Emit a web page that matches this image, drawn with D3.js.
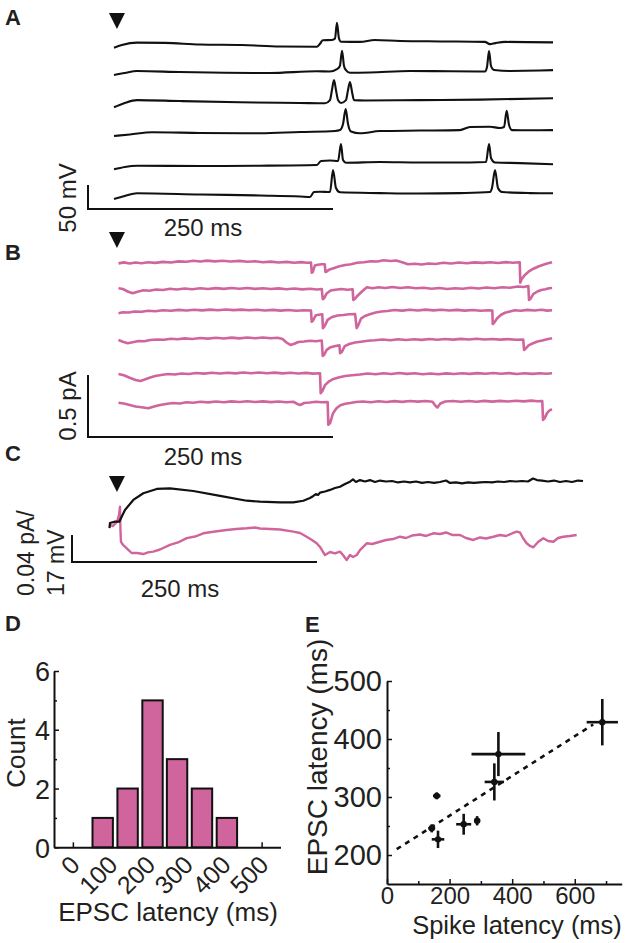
<!DOCTYPE html>
<html><head><meta charset="utf-8">
<script src="https://cdn.jsdelivr.net/npm/d3@7/dist/d3.min.js"></script>
<style>
body{margin:0;background:#fff}
svg{display:block}
text{font-family:"Liberation Sans",Arial,Helvetica,sans-serif;fill:#231f20}
</style>
</head><body>
<svg id="fig" width="630" height="943"></svg>
<script>
// ---------------- DATA ----------------
// Panel A: membrane potential trials, [time ms, mV relative to rest]
const vmTrial1 = [[0,-3.5],[8,2],[23.5,7],[52,6.5],[88,3],[130.5,2],[169.5,-1],[207,-1.5],[210,4],[213,12],[222.5,12.5],[225.5,15.5],[227.5,48.5],[229.5,16.5],[231.5,9],[251,8.5],[266,12.5],[292,10.5],[333,9.5],[378.5,8.5],[383.5,4],[389,6],[399,8.5],[448,7.5]];
const vmTrial2 = [[0,-6.2],[11,-2],[23.5,2],[67,0],[113,-1.5],[159,-2],[207,1.5],[220,1],[227.5,6],[230.5,12.5],[232.7,44.4],[234.7,12.5],[236.7,4],[240.8,-1.5],[261,-1],[302,2],[343,1.5],[378.5,1],[380.6,10.4],[382.7,43.7],[384.7,12.5],[387.8,4],[404,2],[434.7,3],[448,4]];
const vmTrial3 = [[0,-11],[11,-2],[23.5,4],[67,2],[128.6,-0.6],[190,-2],[215.3,-2.7],[220.4,4],[222.4,25],[224.5,45.8],[226.5,25],[228.6,4],[231.6,-2],[236.7,4],[238.8,25],[240.8,41.7],[242.9,20.8],[244.9,4],[256,3],[312,4],[373.5,5],[448,7.7]];
const vmTrial4 = [[0,-8.3],[16.3,-5.2],[38.8,-0.6],[88,-2],[149,-2.7],[190,0],[225.5,2],[230.6,4],[233.7,16.7],[236.4,47.9],[238.8,16.7],[241.8,1],[251,-2.7],[271.4,2],[312,3],[353,4],[363.3,10.4],[383.7,11],[393.9,8.3],[398,10.4],[400.7,44.4],[403.1,14.6],[406.1,4],[424.5,3.5],[448,4]];
const vmTrial5 = [[0,-9],[11,-4],[23.5,-1.5],[88,-2],[149,-1.5],[207,0],[211.2,8.3],[220.4,9.4],[228.6,8.3],[231.6,43.7],[233.7,10.4],[236.7,4.8],[271.4,6.2],[312,5.2],[363.3,5.2],[379.6,6.2],[382.7,43.7],[384.7,14.6],[388.8,5.2],[414.3,4],[448,1.5]];
const vmTrial6 = [[0,-8.3],[11,-2],[23.5,3.5],[88,1],[149,-1],[190,-3],[200,-4.2],[204.1,6.2],[210.2,6.9],[220.4,6.2],[223.5,52],[226.5,14.6],[230.6,5.6],[271.4,4],[312,3],[353,4],[383.7,6.2],[385.7,14.6],[388.8,52],[391.8,14.6],[395.9,6.2],[424.5,4],[448,3.5]];

// Panel B: EPSC trials, [time ms, pA relative to baseline]
const iTrial1 = [[4.6,-0.003],[10,0.005],[16,-0.004],[22,0.004],[28,-0.002],[35,0.006],[42,0.001],[50,0.009],[58,0.004],[66,0.013],[74,0.010],[81,0.018],[88,0.012],[95,0.019],[103,0.013],[111,0.018],[119,0.012],[128,0.017],[136,0.010],[144,0.014],[152,0.006],[160,0.011],[168,0.004],[176,0.009],[184,0.002],[191,0.007],[197,0.002],[201,0.004],[201.8,-0.078],[203,-0.07],[205,-0.02],[208,-0.014],[212,-0.01],[215,-0.01],[215.8,-0.072],[217,-0.068],[220,-0.052],[224,-0.042],[230,-0.026],[236,-0.016],[242,-0.01],[248,0.002],[255,0.006],[262,0.014],[269,0.012],[275,0.022],[282,0.016],[288,0.02],[294,0.006],[300,-0.01],[307,-0.006],[314,-0.012],[321,-0.004],[328,-0.008],[336,0.002],[344,-0.004],[352,0.004],[360,-0.002],[368,0.005],[376,0.001],[384,0.006],[392,0.0],[400,0.007],[407,0.002],[414,0.006],[414.6,-0.158],[416,-0.13],[419,-0.098],[423,-0.07],[428,-0.046],[433,-0.028],[438,-0.014],[442,-0.004],[447,0.006]];
const iTrial2 = [[4.6,0.006],[9,0.0],[14,-0.02],[19,-0.034],[24,-0.022],[30,-0.01],[36,-0.014],[43,-0.004],[50,-0.008],[57,0.002],[64,-0.004],[72,0.004],[80,-0.002],[88,0.006],[96,0.0],[104,0.007],[112,0.001],[120,0.008],[128,0.002],[136,0.008],[144,0.001],[152,0.006],[160,0.0],[168,0.005],[176,-0.002],[184,0.004],[192,-0.003],[200,0.002],[207,-0.004],[212,0.0],[213,-0.082],[214.5,-0.074],[217,-0.036],[221,-0.012],[226,-0.006],[232,0.0],[238,-0.006],[243.5,-0.002],[244.2,-0.088],[246,-0.078],[249,-0.05],[253,-0.02],[258,0.014],[264,0.006],[270,0.014],[277,0.008],[284,0.016],[292,0.008],[300,0.014],[308,0.006],[316,0.01],[324,0.002],[332,0.008],[340,0.0],[348,0.006],[356,0.002],[364,0.01],[372,0.004],[380,0.012],[388,0.006],[396,0.014],[404,0.01],[412,0.02],[418,0.016],[422.8,0.024],[423.5,-0.088],[425,-0.08],[428,-0.04],[432,-0.02],[436,-0.008],[440,-0.002],[444,0.006],[447,0.008]];
const iTrial3 = [[4.6,-0.018],[9,-0.01],[15,-0.012],[21,-0.004],[28,-0.006],[35,0.002],[42,-0.002],[50,0.006],[58,0.002],[66,0.009],[74,0.004],[82,0.01],[90,0.005],[98,0.011],[106,0.006],[114,0.012],[122,0.007],[130,0.011],[138,0.006],[146,0.01],[154,0.004],[162,0.009],[170,0.003],[178,0.008],[186,0.002],[194,0.006],[201,0.004],[201.7,-0.086],[203,-0.078],[206,-0.034],[209,-0.03],[212.5,-0.026],[213.2,-0.138],[215,-0.12],[218,-0.072],[222,-0.05],[228,-0.036],[234,-0.032],[240,-0.026],[246,-0.024],[247.6,-0.138],[249,-0.12],[252,-0.062],[256,-0.04],[261,-0.026],[267,-0.012],[273,-0.004],[279,0.0],[286,0.008],[294,0.003],[302,0.01],[310,0.004],[318,0.011],[326,0.005],[334,0.01],[342,0.004],[350,0.009],[358,0.003],[366,0.008],[374,0.002],[382,0.006],[386,0.004],[386.5,-0.104],[388,-0.094],[391,-0.058],[395,-0.03],[399,-0.014],[404,-0.004],[409,0.006],[415,0.002],[422,0.009],[429,0.004],[436,0.01],[442,0.003],[447,0.006]];
const iTrial4 = [[4.6,0.0],[9,-0.014],[14,-0.026],[19,-0.018],[25,-0.008],[31,-0.01],[37,0.0],[44,0.004],[51,0.002],[58,0.01],[65,0.006],[72,0.013],[80,0.008],[88,0.016],[96,0.011],[104,0.018],[112,0.012],[120,0.019],[128,0.013],[136,0.02],[144,0.014],[152,0.02],[160,0.014],[167,0.018],[172,0.008],[176,-0.02],[180,-0.04],[184,-0.03],[188,-0.016],[194,-0.012],[200,-0.006],[206,-0.01],[212,-0.004],[213,-0.128],[214.5,-0.118],[217,-0.08],[221,-0.058],[226,-0.048],[230,-0.042],[230.7,-0.106],[232.5,-0.096],[235.5,-0.05],[240,-0.032],[246,-0.02],[252,-0.014],[259,-0.006],[266,-0.002],[274,0.004],[282,-0.002],[290,0.006],[298,0.0],[306,0.006],[314,0.001],[322,0.008],[330,0.002],[338,0.008],[346,0.003],[354,0.009],[362,0.004],[370,0.01],[378,0.004],[386,0.008],[394,0.003],[402,0.007],[410,0.002],[417.6,0.004],[418.4,-0.08],[420,-0.07],[423,-0.044],[427,-0.028],[432,-0.012],[437,-0.004],[442,0.006],[447,0.014]];
const iTrial5 = [[4.6,0.0],[10,-0.01],[16,-0.03],[22,-0.048],[27,-0.056],[32,-0.042],[37,-0.028],[42,-0.016],[48,-0.008],[55,0.0],[62,-0.004],[69,0.004],[76,0.0],[84,0.008],[92,0.003],[100,0.01],[108,0.004],[116,0.01],[124,0.005],[132,0.012],[140,0.006],[148,0.012],[156,0.006],[164,0.011],[172,0.005],[180,0.01],[188,0.004],[196,0.009],[203,0.003],[210.2,0.006],[210.9,-0.154],[212.5,-0.138],[215.5,-0.088],[219,-0.062],[224,-0.04],[230,-0.026],[236,-0.016],[243,-0.01],[251,-0.004],[259,0.004],[267,-0.002],[275,0.006],[283,0.0],[291,0.008],[299,0.001],[307,0.006],[315,-0.002],[323,0.004],[331,-0.002],[339,0.005],[347,0.0],[355,0.006],[363,0.001],[371,0.007],[379,0.002],[387,0.008],[395,0.002],[403,0.007],[411,0.0],[419,0.006],[427,0.001],[435,0.006],[441,0.002],[447,0.006]];
const iTrial6 = [[4.6,-0.006],[10,-0.012],[16,-0.024],[22,-0.036],[28,-0.042],[35,-0.05],[41,-0.036],[47,-0.024],[53,-0.016],[60,-0.008],[67,-0.012],[74,-0.002],[81,-0.006],[88,0.002],[96,-0.003],[104,0.004],[112,-0.002],[120,0.005],[128,0.0],[136,0.006],[144,0.0],[152,0.005],[160,-0.001],[168,0.004],[176,-0.002],[183,0.002],[187,-0.016],[190,-0.024],[194,-0.008],[200,-0.004],[206,0.002],[212,-0.002],[218,0.0],[218.7,-0.184],[220.5,-0.17],[223.5,-0.09],[227,-0.05],[231,-0.026],[236,-0.014],[241,-0.008],[247,0.0],[254,0.004],[262,-0.002],[270,0.006],[278,0.0],[286,0.007],[294,0.001],[302,0.008],[310,0.003],[318,0.008],[325,0.002],[328,-0.03],[330,-0.044],[333,-0.012],[338,0.004],[346,0.008],[354,0.002],[362,0.008],[370,0.002],[378,0.009],[386,0.003],[394,0.009],[402,0.004],[410,0.01],[418,0.005],[426,0.011],[432,0.006],[437,0.008],[437.8,-0.144],[439.5,-0.13],[442,-0.088],[445,-0.064],[447,-0.06]];

// Panel C: averages. Vm [ms, mV], EPSC [ms, pA]
const vmAverage = [[-4.6,-3.8],[-4.1,-0.6],[1,0.2],[5.4,0.2],[8.2,3.8],[11.2,7.6],[19.7,13.9],[29.9,18.1],[43.6,20.8],[57.1,21.2],[80.9,19.5],[108.2,16.4],[135.4,13.4],[149,12.8],[169.4,12.4],[183,12.4],[193.2,13.4],[200,15.1],[203.4,16.4],[206,17.6],[208.2,17],[210.2,18.5],[215.3,19.2],[220.4,20.2],[225.5,21.4],[230.6,22.2],[235.7,23.9],[240.8,25.4],[243.9,26.8],[246.9,25.2],[251,26.4],[256.1,25.5],[261.2,26.4],[266.3,25.2],[271.4,26.1],[277.6,25.5],[283.7,25.8],[289.8,24.9],[295.9,25.5],[302,24.9],[308.2,25.5],[314.3,24.6],[320.4,25.2],[326.5,24.6],[332.7,25.2],[338.8,26.1],[342.9,24.6],[349,24.9],[355.1,24.3],[361.2,24.9],[367.3,24.6],[373.5,24.9],[379.6,25.2],[385.7,24.9],[391.8,25.5],[398,25.2],[404.1,25.8],[410.2,25.5],[416.3,25.8],[422.4,25.5],[427.6,27.4],[431.6,26.4],[436.7,26.1],[442.9,25.5],[449,26.1],[455.1,25.2],[461.2,25.8],[467.3,25.2],[473.5,26.1],[478.6,25.8]];
const epscAverage = [[-4.1,0.0015],[-1,0],[3.1,0.006],[5.1,0.016],[6.1,0.0286],[6.6,-0.006],[7.1,-0.0233],[9.2,-0.028],[13,-0.033],[18,-0.040],[23.5,-0.040],[29.9,-0.0415],[34.7,-0.039],[40.1,-0.038],[46.9,-0.0348],[57.1,-0.028],[65.3,-0.0244],[74.2,-0.018],[82.7,-0.0156],[91.1,-0.0108],[103.1,-0.0081],[115,-0.0059],[124.5,-0.0044],[135.4,-0.0034],[143.9,-0.0022],[149,-0.0037],[159.2,-0.0044],[169.4,-0.0052],[183,-0.0084],[189.8,-0.0104],[196.6,-0.0159],[202,-0.0207],[206.8,-0.0256],[210.2,-0.0311],[213.3,-0.0385],[215.3,-0.043],[220.4,-0.0385],[225.5,-0.0407],[230.6,-0.038],[233.7,-0.043],[237.4,-0.0504],[240.8,-0.043],[243.9,-0.0459],[247.7,-0.043],[251,-0.0356],[257.9,-0.0256],[263.3,-0.0267],[271.4,-0.0233],[277.6,-0.0207],[284.7,-0.0193],[291.8,-0.0159],[298,-0.0178],[304.1,-0.0141],[312.2,-0.0126],[318.4,-0.0148],[325.8,-0.0108],[332.7,-0.0119],[338.8,-0.0096],[344.9,-0.0133],[353.1,-0.0133],[359.2,-0.0178],[366.6,-0.0207],[373.5,-0.017],[379.6,-0.0185],[387.1,-0.0159],[393.9,-0.0133],[400,-0.0148],[406.1,-0.0111],[410.9,-0.0084],[414.3,-0.0096],[417.3,-0.0178],[421.1,-0.0256],[424.5,-0.0296],[427.9,-0.0316],[432.7,-0.0237],[438.1,-0.0182],[442.9,-0.0222],[448.3,-0.0233],[453.1,-0.0178],[458.5,-0.0159],[465.3,-0.0148],[472.1,-0.0133]];

// Panel D: histogram
const binCenters = [79, 145, 211, 276, 342, 408];
const binCounts = [1, 2, 5, 3, 2, 1];
const histXTicks = [0, 100, 200, 300, 400, 500];
const histYTicks = [0, 2, 4, 6];

// Panel E: scatter with error bars
const spikeLatency = [143, 163, 159, 245, 288, 343, 356, 688];
const spikeLatencyErr = [11, 20, 12, 24, 10, 31, 86, 50];
const epscLatency = [246, 227, 302, 253, 259, 326, 374, 429];
const epscLatencyErr = [7, 15, 6, 18, 8, 32, 38, 40];
const fitX = [31, 659];
const fitY = [210, 425];
const scatterXTicks = [0, 200, 400, 600];
const scatterYTicks = [200, 300, 400, 500];

// ---------------- DRAWING ----------------
const PINK = "#cf659c";
const INK = "#111";
const svg = d3.select("#fig");

// shared time scale for traces (250 ms scale bar)
const xT = d3.scaleLinear().domain([0, 250]).range([114, 359]);
const stimTime = 3;

function label(x, y, s) {
  svg.append("text").attr("x", x).attr("y", y).attr("font-size", 22)
    .attr("font-weight", "bold").text(s);
}
function triangle(yTop) {
  const cx = xT(stimTime);
  svg.append("path").attr("d", `M${cx-8},${yTop}L${cx+8},${yTop}L${cx},${yTop+16}Z`).attr("fill", INK);
}
function scaleBar(x0, y0, h, len) {
  svg.append("path").attr("d", `M${x0},${y0-h}V${y0}H${x0+len}`)
    .attr("fill", "none").attr("stroke", INK).attr("stroke-width", 2);
}
function rotText(x, y, s, size, anchor) {
  svg.append("text").attr("transform", `translate(${x},${y}) rotate(-90)`)
    .attr("text-anchor", anchor || "middle").attr("font-size", size).text(s);
}

// ---- Panel A ----
label(5, 25, "A");
triangle(13);
const yA = d3.scaleLinear().domain([0, 50]).range([0, -24]);
const aRefs = [46, 72, 102, 132, 165, 195];
[vmTrial1, vmTrial2, vmTrial3, vmTrial4, vmTrial5, vmTrial6].forEach((tr, i) => {
  const ln = d3.line().x(d => xT(d[0])).y(d => aRefs[i] + yA(d[1])).curve(d3.curveMonotoneX);
  svg.append("path").attr("d", ln(tr)).attr("fill", "none").attr("stroke", INK)
    .attr("stroke-width", 2.1).attr("stroke-linejoin", "round");
});
scaleBar(88, 209, -yA(50), xT(250) - xT(0));
rotText(76, 198, "50 mV", 24);
svg.append("text").attr("x", 203).attr("y", 236).attr("text-anchor", "middle").attr("font-size", 24).text("250 ms");

// ---- Panel B ----
label(5, 260, "B");
triangle(232);
const yB = d3.scaleLinear().domain([0, 0.5]).range([0, -62]);
const bRefs = [263, 289, 311, 340, 374, 402];
[iTrial1, iTrial2, iTrial3, iTrial4, iTrial5, iTrial6].forEach((tr, i) => {
  const ln = d3.line().x(d => xT(d[0])).y(d => bRefs[i] + yB(d[1]));
  svg.append("path").attr("d", ln(tr)).attr("fill", "none").attr("stroke", PINK)
    .attr("stroke-width", 2.6).attr("stroke-linejoin", "round");
});
scaleBar(88, 437, -yB(0.5), xT(250) - xT(0));
rotText(76, 406, "0.5 pA", 24);
svg.append("text").attr("x", 203).attr("y", 465).attr("text-anchor", "middle").attr("font-size", 24).text("250 ms");

// ---- Panel C ----
label(5, 461, "C");
triangle(476);
const yCv = d3.scaleLinear().domain([0, 17]).range([0, -27]);
const yCi = d3.scaleLinear().domain([0, 0.04]).range([0, -27]);
svg.append("path").attr("d", d3.line().x(d => xT(d[0])).y(d => 526 + yCi(d[1]))(epscAverage))
  .attr("fill", "none").attr("stroke", PINK).attr("stroke-width", 2.4).attr("stroke-linejoin", "round");
svg.append("path").attr("d", d3.line().x(d => xT(d[0])).y(d => 522 + yCv(d[1]))(vmAverage))
  .attr("fill", "none").attr("stroke", INK).attr("stroke-width", 2.2).attr("stroke-linejoin", "round");
scaleBar(72, 562, -yCv(17), xT(250) - xT(0));
rotText(34, 596, "0.04 pA/", 23, "start");
rotText(64, 596, "17 mV", 23, "start");
svg.append("text").attr("x", 180).attr("y", 597).attr("text-anchor", "middle").attr("font-size", 24).text("250 ms");

// ---- Panel D ----
label(5, 631, "D");
const xD = d3.scaleLinear().domain([-50, 550]).range([54, 280.5]);
const yD = d3.scaleLinear().domain([0, 6]).range([847.3, 671]);
const gDy = svg.append("g").attr("transform", `translate(${xD(-50)},0)`)
  .call(d3.axisLeft(yD).tickValues(histYTicks).tickFormat(d3.format("d")).tickSize(-5).tickSizeOuter(0).tickPadding(4));
svg.append("g").attr("transform", `translate(${xD(-50)},0)`)
  .call(d3.axisLeft(yD).tickValues([1, 3, 5]).tickSize(-3).tickFormat(""))
  .call(g => g.select(".domain").remove());
const gDx = svg.append("g").attr("transform", `translate(0,${yD(0)})`)
  .call(d3.axisBottom(xD).tickValues(histXTicks).tickFormat(d3.format("d")).tickSize(-5).tickSizeOuter(0));
gDx.selectAll(".tick text").attr("y", 0).attr("dy", 0)
  .attr("transform", "translate(8,19) rotate(-45)").attr("text-anchor", "end");
[gDy, gDx].forEach(g => {
  g.attr("font-size", 25).attr("font-family", null);
  g.selectAll("text").attr("fill", "#231f20");
  g.select(".domain").attr("stroke", INK).attr("stroke-width", 2);
});
gDy.attr("font-size", 27);
gDy.selectAll(".tick text").attr("dy", "0.36em");
const bw = 54;
svg.append("g").selectAll("rect").data(binCenters).join("rect")
  .attr("x", (c) => xD(c - bw / 2)).attr("width", c => xD(c + bw / 2) - xD(c - bw / 2))
  .attr("y", (c, i) => yD(binCounts[i])).attr("height", (c, i) => yD(0) - yD(binCounts[i]))
  .attr("fill", PINK).attr("stroke", INK).attr("stroke-width", 2);
rotText(25, 753, "Count", 26);
svg.append("text").attr("x", 168).attr("y", 921).attr("text-anchor", "middle").attr("font-size", 26).text("EPSC latency (ms)");

// ---- Panel E ----
label(305, 632, "E");
const xE = d3.scaleLinear().domain([0, 750]).range([387, 621.7]);
const yE = d3.scaleLinear().domain([150, 500]).range([884, 681]);
const gEy = svg.append("g").attr("transform", `translate(${xE(0)},0)`)
  .call(d3.axisLeft(yE).tickValues(scatterYTicks).tickSize(-5).tickSizeOuter(0).tickPadding(5));
svg.append("g").attr("transform", `translate(${xE(0)},0)`)
  .call(d3.axisLeft(yE).tickValues([250, 350, 450]).tickSize(-3).tickFormat(""))
  .call(g => g.select(".domain").remove());
const gEx = svg.append("g").attr("transform", `translate(0,${yE(150)})`)
  .call(d3.axisBottom(xE).tickValues(scatterXTicks).tickSize(-5).tickSizeOuter(0).tickPadding(3));
svg.append("g").attr("transform", `translate(0,${yE(150)})`)
  .call(d3.axisBottom(xE).tickValues([100, 300, 500, 700]).tickSize(-3).tickFormat(""))
  .call(g => g.select(".domain").remove());
gEy.attr("font-size", 29); gEx.attr("font-size", 24);
[gEy, gEx].forEach(g => {
  g.attr("font-family", null);
  g.selectAll("text").attr("fill", "#231f20");
  g.select(".domain").attr("stroke", INK).attr("stroke-width", 2);
});
svg.selectAll(".tick line").attr("stroke", INK).attr("stroke-width", 1.5);
// fit line
svg.append("path").attr("d", d3.line().x(d => xE(d)).y((d, i) => yE(fitY[i]))(fitX))
  .attr("fill", "none").attr("stroke", INK).attr("stroke-width", 2.6).attr("stroke-dasharray", "5,5");
// error bars
const pts = spikeLatency.map((x, i) => ({ x, y: epscLatency[i], ex: spikeLatencyErr[i], ey: epscLatencyErr[i] }));
const gp = svg.append("g").attr("stroke", INK).attr("stroke-width", 2.6);
gp.selectAll("line.h").data(pts).join("line").attr("class", "h")
  .attr("x1", d => xE(d.x - d.ex)).attr("x2", d => xE(d.x + d.ex))
  .attr("y1", d => yE(d.y)).attr("y2", d => yE(d.y));
gp.selectAll("line.v").data(pts).join("line").attr("class", "v")
  .attr("x1", d => xE(d.x)).attr("x2", d => xE(d.x))
  .attr("y1", d => yE(d.y - d.ey)).attr("y2", d => yE(d.y + d.ey));
svg.append("g").selectAll("circle").data(pts).join("circle")
  .attr("cx", d => xE(d.x)).attr("cy", d => yE(d.y)).attr("r", 3.2).attr("fill", INK);
rotText(327, 757, "EPSC latency (ms)", 28);
svg.append("text").attr("x", 517).attr("y", 934).attr("text-anchor", "middle").attr("font-size", 25.5).text("Spike latency (ms)");
</script>
</body></html>
